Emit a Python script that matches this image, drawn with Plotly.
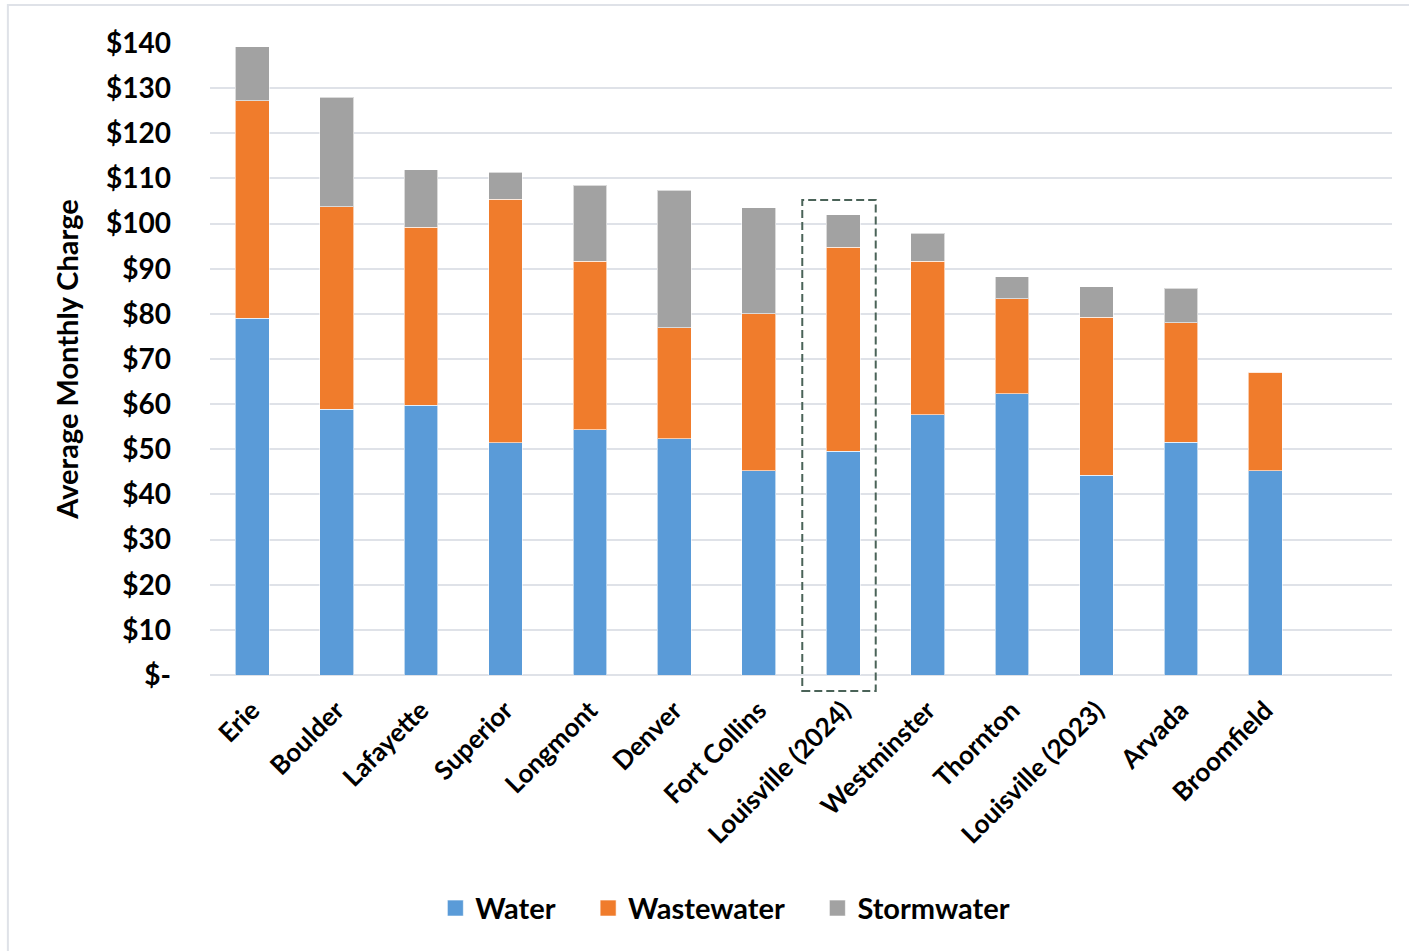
import plotly.graph_objects as go

# Average monthly utility charges by community
cities = ["Erie", "Boulder", "Lafayette", "Superior", "Longmont", "Denver",
          "Fort Collins", "Louisville (2024)", "Westminster", "Thornton",
          "Louisville (2023)", "Arvada", "Broomfield"]
water = [79.0, 58.9, 59.8, 51.4, 54.3, 52.3, 45.2, 49.6, 57.6, 62.3, 44.3, 51.6, 45.2]
wastewater = [48.2, 44.8, 39.4, 54.0, 37.4, 24.6, 34.8, 45.2, 34.1, 21.0, 35.0, 26.4, 21.9]
stormwater = [12.0, 24.3, 12.7, 6.0, 16.8, 30.5, 23.5, 7.1, 6.2, 4.9, 6.7, 7.7, 0.0]

y_ticks = [0, 10, 20, 30, 40, 50, 60, 70, 80, 90, 100, 110, 120, 130, 140]
y_tick_text = ["$-"] + [f"${v}" for v in y_ticks[1:]]

FONT = "Lato"
series = [
    ("Water", water, "#5a9bd8"),
    ("Wastewater", wastewater, "#f07c2c"),
    ("Stormwater", stormwater, "#a2a2a2"),
]
PAD = "\u00a0" * 4  # extra room between legend entries

fig = go.Figure()
for name, vals, color in series:
    fig.add_trace(go.Bar(
        x=cities, y=vals, name=name, legendgroup=name, showlegend=False,
        marker=dict(color=color, line=dict(color="rgba(255,255,255,0.6)", width=1)),
        width=0.4,
    ))
# legend entries with larger square swatches
for i, (name, vals, color) in enumerate(series):
    fig.add_trace(go.Scatter(
        x=[None], y=[None], mode="markers", legendgroup=name,
        name=name + (PAD if i < len(series) - 1 else ""),
        marker=dict(symbol="square", size=16, color=color,
                    line=dict(color="rgba(255,255,255,0.6)", width=1)),
        hoverinfo="skip",
    ))

# highlight box around the current Louisville rates (extends just below the axis)
hi = cities.index("Louisville (2024)")
fig.add_shape(type="rect", xref="x", yref="paper",
              x0=hi - 0.485, x1=hi + 0.385, y0=-0.0253, y1=0.7516,
              line=dict(color="#4a6358", width=2, dash="8px,4px"),
              fillcolor="rgba(0,0,0,0)", layer="above")

# outer chart frame
fig.add_shape(type="rect", xref="paper", yref="paper",
              x0=-0.171, x1=1.2, y0=-0.48, y1=1.06,
              line=dict(color="#dfe2e8", width=2), layer="below")

fig.update_layout(
    width=1409, height=951,
    margin=dict(l=210, r=17, t=43, b=276),
    paper_bgcolor="white", plot_bgcolor="white",
    barmode="stack",
    bargap=0.6,
    font=dict(family=FONT, color="#000000"),
    showlegend=True,
    legend=dict(orientation="h", x=0.436, xanchor="center",
                y=-0.369, yanchor="middle",
                font=dict(family=FONT, size=29, color="#000000", weight="bold"),
                itemsizing="trace", traceorder="normal",
                itemwidth=30),
)
fig.update_xaxes(
    type="category", range=[-0.5, 13.5],
    tickangle=-45,
    tickfont=dict(family=FONT, size=26, color="#000000", weight="bold"),
    showgrid=False, showline=False, ticks="", ticklabelstandoff=14,
)
fig.update_yaxes(
    range=[0, 140],
    tickvals=y_ticks, ticktext=y_tick_text,
    tickfont=dict(family=FONT, size=28, color="#000000", weight="bold"),
    showgrid=True, gridcolor="#dfe2e8", gridwidth=2,
    zeroline=True, zerolinecolor="#dfe2e8", zerolinewidth=2,
    showline=False, ticks="", ticklabelstandoff=38,
    title=dict(text="Average Monthly Charge", standoff=18,
               font=dict(family=FONT, size=29, color="#000000", weight="bold")),
)

fig.write_html("out.html")
